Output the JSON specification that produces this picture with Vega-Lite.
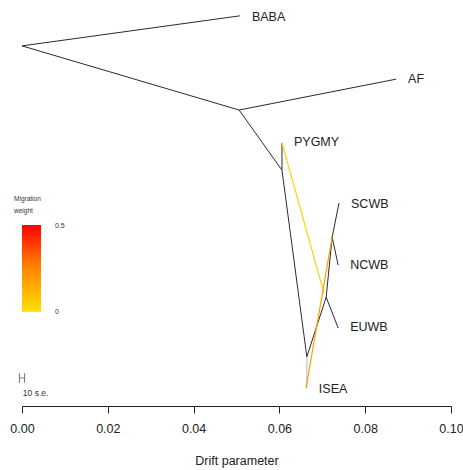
{
  "$schema": "https://vega.github.io/schema/vega-lite/v6.json",
  "width": 429,
  "height": 406,
  "autosize": "none",
  "padding": {"left": 22, "top": 0, "right": 12, "bottom": 64},
  "background": "white",
  "config": {"view": {"stroke": null}, "font": "Liberation Sans"},
  "datasets": {
    "edges": [
      {"from": "root", "to": "BABA", "x": 0.0, "y": 0.113, "x2": 0.0508, "y2": 0.039, "kind": "tree"},
      {"from": "root", "to": "n1", "x": 0.0, "y": 0.113, "x2": 0.0506, "y2": 0.271, "kind": "tree"},
      {"from": "n1", "to": "AF", "x": 0.0506, "y": 0.271, "x2": 0.0872, "y2": 0.195, "kind": "tree"},
      {"from": "n1", "to": "n2", "x": 0.0506, "y": 0.271, "x2": 0.0606, "y2": 0.419, "kind": "tree"},
      {"from": "n2", "to": "PYGMY", "x": 0.0606, "y": 0.419, "x2": 0.0606, "y2": 0.352, "kind": "tree"},
      {"from": "n2", "to": "n3", "x": 0.0606, "y": 0.419, "x2": 0.0664, "y2": 0.879, "kind": "tree"},
      {"from": "n3", "to": "n4", "x": 0.0664, "y": 0.879, "x2": 0.0709, "y2": 0.732, "kind": "tree"},
      {"from": "n4", "to": "EUWB", "x": 0.0709, "y": 0.732, "x2": 0.0737, "y2": 0.808, "kind": "tree"},
      {"from": "n4", "to": "n5", "x": 0.0709, "y": 0.732, "x2": 0.0723, "y2": 0.584, "kind": "tree"},
      {"from": "n5", "to": "SCWB", "x": 0.0723, "y": 0.584, "x2": 0.0739, "y2": 0.5, "kind": "tree"},
      {"from": "n5", "to": "NCWB", "x": 0.0723, "y": 0.584, "x2": 0.0737, "y2": 0.653, "kind": "tree"}
    ],
    "tipedge": [
      {"from": "n3", "to": "ISEA", "x": 0.0664, "y": 0.879, "x2": 0.0664, "y2": 0.956}
    ],
    "migrations": [
      {"from": "PYGMY", "to": "n4", "x": 0.0606, "y": 0.352, "x2": 0.0704, "y2": 0.722, "weight": 0.04},
      {"from": "ISEA", "to": "n5", "x": 0.0662, "y": 0.956, "x2": 0.0723, "y2": 0.584, "weight": 0.2}
    ],
    "tips": [
      {"name": "BABA", "x": 0.0508, "y": 0.042},
      {"name": "AF", "x": 0.0872, "y": 0.195},
      {"name": "PYGMY", "x": 0.0606, "y": 0.349},
      {"name": "SCWB", "x": 0.0739, "y": 0.502},
      {"name": "NCWB", "x": 0.0737, "y": 0.653},
      {"name": "EUWB", "x": 0.0737, "y": 0.806},
      {"name": "ISEA", "x": 0.0664, "y": 0.958}
    ],
    "legendbar": [{"x": 0.0, "x2": 0.00443, "y": 0.554, "y2": 0.768}],
    "legendlabels": [
      {"label": "0.5", "x": 0.0077, "y": 0.557},
      {"label": "0", "x": 0.0077, "y": 0.768}
    ],
    "legendtitle": [
      {"label": "Migration", "x": -0.00186, "y": 0.490},
      {"label": "weight", "x": -0.00186, "y": 0.520}
    ],
    "sebar": [
      {"part": "h", "x": -0.0006, "x2": 0.0006, "y": 0.931, "y2": 0.931},
      {"part": "l", "x": -0.0006, "x2": -0.0006, "y": 0.919, "y2": 0.943},
      {"part": "r", "x": 0.0006, "x2": 0.0006, "y": 0.919, "y2": 0.943}
    ],
    "setext": [{"label": "10 s.e.", "x": 0.0002, "y": 0.969}]
  },
  "encoding": {
    "x": {"field": "x", "type": "quantitative", "scale": {"domain": [0, 0.1], "nice": false, "zero": false},
      "axis": {"title": "Drift parameter", "values": [0, 0.02, 0.04, 0.06, 0.08, 0.1], "format": ".2f", "grid": false,
        "domainColor": "#222", "tickColor": "#222", "tickSize": 7, "labelFontSize": 12.5, "labelColor": "#222",
        "labelPadding": 9, "titleFontSize": 12.5, "titleFontWeight": "normal", "titleColor": "#222", "titlePadding": 20, "labelFlush": false}},
    "y": {"field": "y", "type": "quantitative", "scale": {"domain": [0, 1], "reverse": true, "nice": false, "zero": false}, "axis": null}
  },
  "layer": [
    {"data": {"name": "edges"}, "mark": {"type": "rule", "color": "#2a2a2a", "strokeWidth": 1},
      "encoding": {"x2": {"field": "x2"}, "y2": {"field": "y2"}}},
    {"data": {"name": "tipedge"}, "mark": {"type": "rule", "color": "#b8b8b8", "strokeWidth": 1},
      "encoding": {"x2": {"field": "x2"}, "y2": {"field": "y2"}}},
    {"data": {"name": "migrations"}, "mark": {"type": "rule", "strokeWidth": 1.2},
      "encoding": {"x2": {"field": "x2"}, "y2": {"field": "y2"},
        "color": {"field": "weight", "type": "quantitative", "scale": {"domain": [0, 0.25, 0.5], "range": ["#FFE000", "#FF9000", "#FF0000"]}, "legend": null}}},
    {"data": {"name": "tips"}, "mark": {"type": "text", "align": "left", "baseline": "middle", "dx": 12, "fontSize": 12.5, "color": "#222"},
      "encoding": {"text": {"field": "name"}}},
    {"data": {"name": "legendbar"},
      "mark": {"type": "rect", "color": {"gradient": "linear", "x1": 0, "y1": 1, "x2": 0, "y2": 0,
        "stops": [{"offset": 0, "color": "#FFE000"}, {"offset": 0.5, "color": "#FF8800"}, {"offset": 1, "color": "#FF0000"}]}},
      "encoding": {"x2": {"field": "x2"}, "y2": {"field": "y2"}}},
    {"data": {"name": "legendlabels"}, "mark": {"type": "text", "align": "left", "baseline": "middle", "fontSize": 7, "color": "#333"},
      "encoding": {"text": {"field": "label"}}},
    {"data": {"name": "legendtitle"}, "mark": {"type": "text", "align": "left", "baseline": "middle", "fontSize": 6.5, "color": "#333"},
      "encoding": {"text": {"field": "label"}}},
    {"data": {"name": "sebar"}, "mark": {"type": "rule", "color": "#555", "strokeWidth": 0.8},
      "encoding": {"x2": {"field": "x2"}, "y2": {"field": "y2"}}},
    {"data": {"name": "setext"}, "mark": {"type": "text", "align": "left", "baseline": "middle", "fontSize": 8.5, "color": "#333"},
      "encoding": {"text": {"field": "label"}}}
  ]
}
